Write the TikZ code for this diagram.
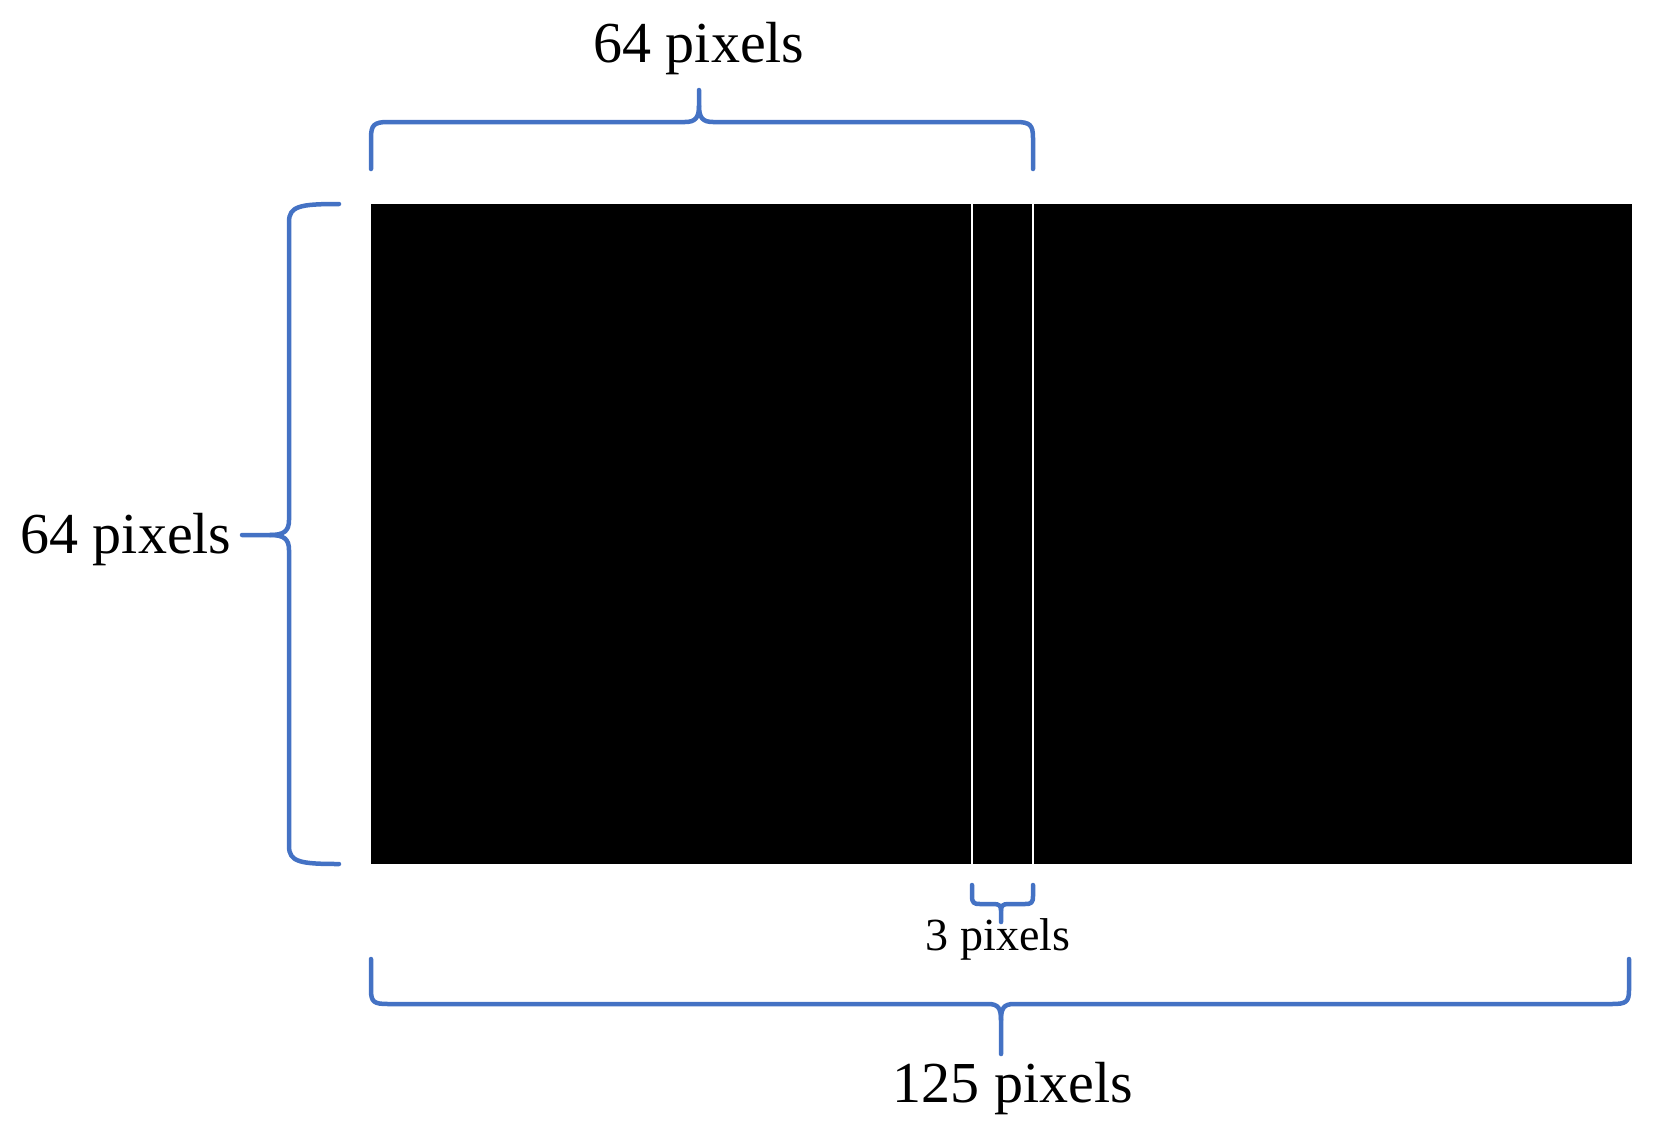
\documentclass[tikz,border=0pt]{standalone}
\usepackage{fontspec}
\setmainfont{Liberation Serif}
\definecolor{bracecol}{HTML}{4472C4}
\tikzset{
  bracepath/.style={draw=bracecol, line width=4.5pt, line cap=round, line join=round},
  lbl/.style={inner sep=0pt, anchor=center, font=\fontsize{58}{60}\selectfont},
  smalllbl/.style={inner sep=0pt, anchor=center, font=\fontsize{46}{50}\selectfont}
}
\begin{document}
\begin{tikzpicture}[x=1pt,y=-1pt]
\useasboundingbox (0,0) rectangle (1661,1135);
% image block
\coordinate (rtl) at (371,204);
\coordinate (rbr) at (1632,864);
\fill[black] (rtl) rectangle (rbr);
\draw[white, line width=2pt] (972,204) -- (972,864);
\draw[white, line width=2pt] (1033,204) -- (1033,864);
% top brace
\path[bracepath] (371,169) -- (371,138) .. controls (371,125) and (374,122) .. (388,122) -- (685,122) .. controls (695,122) and (699,118) .. (699,106) -- (699,90);
\path[bracepath] (699,106) .. controls (699,118) and (703,122) .. (713,122) -- (1016,122) .. controls (1030,122) and (1033,125) .. (1033,138) -- (1033,169);
\node[lbl] (ttop) at (699,49) {64 pixels};
% left brace
\path[bracepath] (339,204) .. controls (300,204) and (289,206) .. (289,222) -- (289,520) .. controls (289,531) and (284,535) .. (270,535) -- (242,535);
\path[bracepath] (270,535) .. controls (284,535) and (289,539) .. (289,550) -- (289,846) .. controls (289,862) and (300,864) .. (339,864);
\node[lbl] (tleft) at (126,540) {64 pixels};
% small brace
\path[bracepath] (972,885) -- (972,896) .. controls (972,903) and (974,904) .. (980,904) -- (994,904) .. controls (999,904) and (1001,906) .. (1001,910) -- (1001,922);
\path[bracepath] (1001,910) .. controls (1001,906) and (1003,904) .. (1008,904) -- (1025,904) .. controls (1031,904) and (1033,903) .. (1033,896) -- (1033,885);
\node[smalllbl] (tsmall) at (998,939) {3 pixels};
% bottom brace
\path[bracepath] (371,959) -- (371,990) .. controls (371,1002) and (374,1004) .. (388,1004) -- (988,1004) .. controls (998,1004) and (1001,1008) .. (1001,1020) -- (1001,1054);
\path[bracepath] (1001,1020) .. controls (1001,1008) and (1004,1004) .. (1014,1004) -- (1612,1004) .. controls (1626,1004) and (1629,1002) .. (1629,990) -- (1629,959);
\node[lbl] (tbottom) at (1013,1089) {125 pixels};
\end{tikzpicture}
\end{document}
